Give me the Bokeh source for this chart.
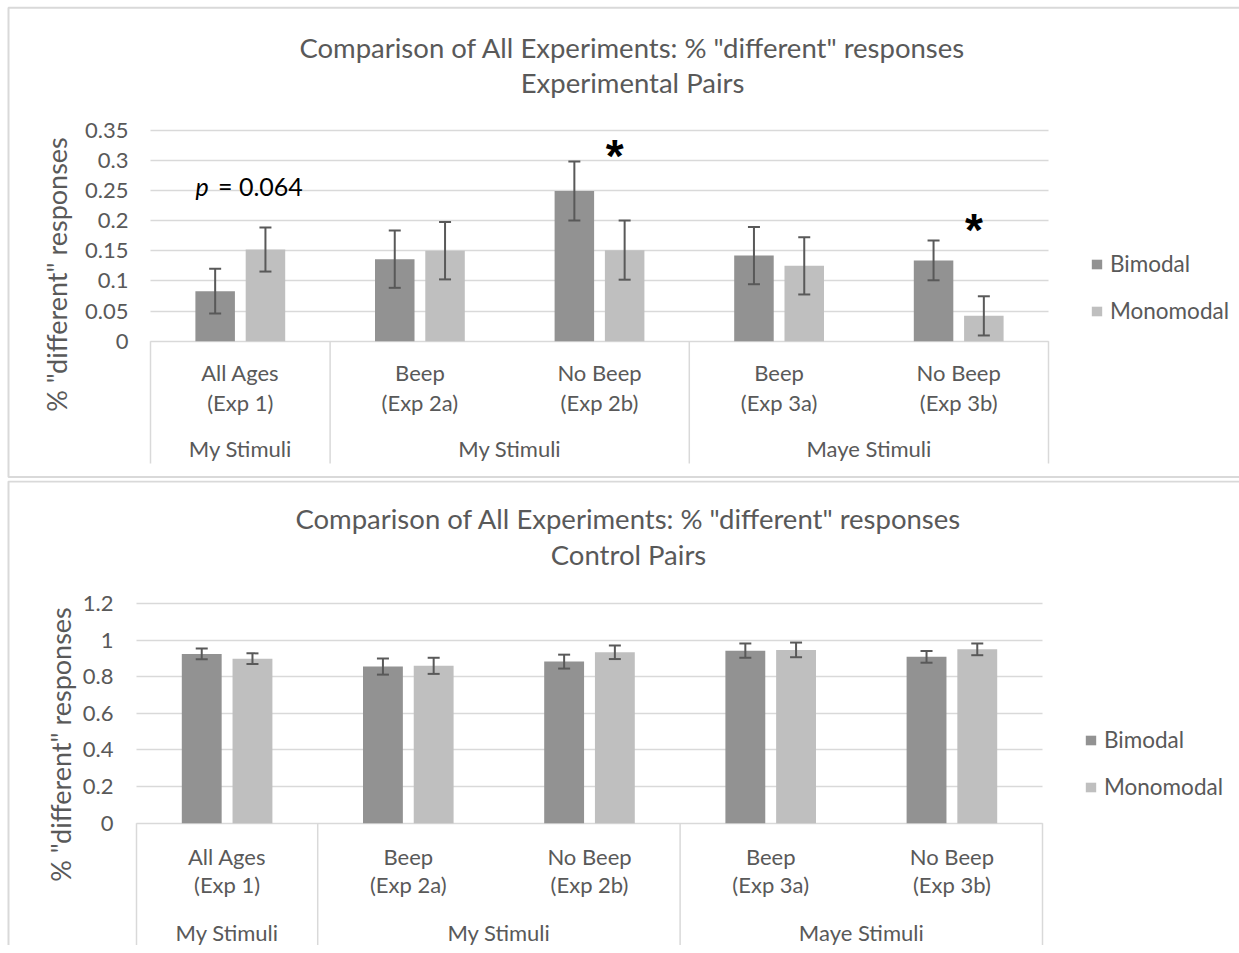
import numpy as np
from bokeh.plotting import figure
from bokeh.models import (ColumnDataSource, FixedTicker, CustomJSTickFormatter, Whisker,
                          Legend, LegendItem, TeeHead)
from bokeh.layouts import column
from bokeh.embed import file_html
from bokeh.resources import INLINE
from bokeh.core.properties import value

# ---------------- data ----------------
conditions = ["All Ages", "Beep", "No Beep", "Beep", "No Beep"]
experiments = ["(Exp 1)", "(Exp 2a)", "(Exp 2b)", "(Exp 3a)", "(Exp 3b)"]
stimulus_groups = ["My Stimuli", "My Stimuli", "Maye Stimuli"]
group_sizes = [1, 2, 2]
series_names = ["Bimodal", "Monomodal"]

exp_bimodal = [0.083, 0.136, 0.249, 0.142, 0.134]
exp_bimodal_err = [0.037, 0.0475, 0.049, 0.0475, 0.033]
exp_monomodal = [0.152, 0.150, 0.151, 0.125, 0.042]
exp_monomodal_err = [0.0365, 0.0475, 0.049, 0.0475, 0.0325]

ctl_bimodal = [0.924, 0.855, 0.882, 0.942, 0.908]
ctl_bimodal_err = [0.029, 0.044, 0.038, 0.039, 0.032]
ctl_monomodal = [0.898, 0.859, 0.933, 0.946, 0.949]
ctl_monomodal_err = [0.029, 0.044, 0.037, 0.040, 0.032]

exp_ticks = [0, 0.05, 0.1, 0.15, 0.2, 0.25, 0.3, 0.35]
ctl_ticks = [0, 0.2, 0.4, 0.6, 0.8, 1, 1.2]

main_title = 'Comparison of All Experiments: % "different" responses'
subtitles = ["Experimental Pairs", "Control Pairs"]
y_title = '% "different" responses'

# significance annotations (experimental pairs): category index, y position
sig_index = [2, 4]
sig_y = [0.307, 0.184]
p_note = "0.064"

# ---------------- style ----------------
FONT = "Lato"
TXT = "#595959"
DARK = "#929292"
LIGHT = "#bfbfbf"
GRID = "#d9d9d9"
FIG_W = 1239


def make_chart(subtitle, bi, bi_err, mono, mono_err, ticks, L):
    n = len(conditions)
    px0, sx, py0, sy, top, h = L["px0"], L["sx"], L["py0"], L["sy"], L["top"], L["h"]

    def dx(px):
        return (px - px0) / sx

    def dy(py):
        return (py0 - py) / sy

    p = figure(width=FIG_W, height=h, x_range=(dx(0), dx(FIG_W)), y_range=(dy(top + h), dy(top)),
               output_backend="svg", toolbar_location=None,
               min_border_left=0, min_border_right=0, min_border_top=0, min_border_bottom=0)
    p.outline_line_color = None
    p.background_fill_color = "white"
    p.border_fill_color = "white"
    p.xaxis.visible = False
    p.xgrid.visible = False
    p.yaxis.fixed_location = 0
    p.yaxis.ticker = FixedTicker(ticks=ticks)
    p.yaxis.formatter = CustomJSTickFormatter(code="return String(tick)")
    p.yaxis.axis_line_color = None
    p.yaxis.major_tick_line_color = None
    p.yaxis.minor_tick_line_color = None
    p.yaxis.major_tick_out = 0
    p.yaxis.major_tick_in = 0
    p.yaxis.major_label_standoff = L["standoff"]
    p.yaxis.major_label_text_font = FONT
    p.yaxis.major_label_text_font_size = "22px"
    p.yaxis.major_label_text_color = TXT
    p.ygrid.grid_line_color = GRID
    p.ygrid.grid_line_width = 1.5
    p.ygrid.cross_bounds = (0, n)

    # chart-area border (decoration)
    p.quad(left=[dx(L["box"][0])], right=[dx(L["box"][1])], top=[dy(L["box"][2])],
           bottom=[dy(L["box"][3])], fill_color=None, line_color=GRID, line_width=2)

    centers = np.arange(n) + 0.5
    bi = np.array(bi); mono = np.array(mono)
    bi_err = np.array(bi_err); mono_err = np.array(mono_err)
    src = ColumnDataSource(dict(
        xb=centers - 0.14, xm=centers + 0.14, bi=bi, mono=mono,
        bi_lo=bi - bi_err, bi_hi=bi + bi_err, mo_lo=mono - mono_err, mo_hi=mono + mono_err))

    rb = p.vbar(x="xb", top="bi", bottom=0, width=0.22, source=src, fill_color=DARK, line_color=None)
    rm = p.vbar(x="xm", top="mono", bottom=0, width=0.22, source=src, fill_color=LIGHT, line_color=None)

    for base, lo, hi in (("xb", "bi_lo", "bi_hi"), ("xm", "mo_lo", "mo_hi")):
        w = Whisker(base=base, lower=lo, upper=hi, source=src, line_color=TXT, line_width=2,
                    level="overlay",
                    upper_head=TeeHead(size=12, line_color=TXT, line_width=2),
                    lower_head=TeeHead(size=12, line_color=TXT, line_width=2))
        p.add_layout(w)

    # category separators
    bounds = np.concatenate([[0], np.cumsum(group_sizes)])
    p.segment(x0=bounds, y0=0, x1=bounds, y1=dy(L["sep"]), line_color=GRID, line_width=1.5)

    # category labels
    p.text(x=centers, y=[dy(L["c1"])] * n, text=conditions, text_align="center", text_baseline="middle",
           text_font=value(FONT), text_font_size="22px", text_color=TXT)
    p.text(x=centers, y=[dy(L["c2"])] * n, text=experiments, text_align="center", text_baseline="middle",
           text_font=value(FONT), text_font_size="22px", text_color=TXT)
    gcent = bounds[:-1] + np.array(group_sizes) / 2
    p.text(x=gcent, y=[dy(L["g"])] * len(gcent), text=stimulus_groups, text_align="center",
           text_baseline="middle", text_font=value(FONT), text_font_size="22px", text_color=TXT)

    # titles
    p.text(x=[dx(L["tx"])] * 2, y=[dy(L["t1"]), dy(L["t2"])], text=[main_title, subtitle],
           text_align="center", text_baseline="middle", text_font=value(FONT),
           text_font_size="27.5px", text_color=TXT)
    # y-axis title
    p.text(x=[dx(L["yx"])], y=[dy(L["yy"])], text=[y_title], angle=np.pi / 2, text_align="center",
           text_baseline="middle", text_font=value(FONT), text_font_size="27px", text_color=TXT)

    legend = Legend(items=[LegendItem(label=series_names[0], renderers=[rb]),
                           LegendItem(label=series_names[1], renderers=[rm])],
                    location=L["leg"], border_line_color=None, background_fill_alpha=0,
                    glyph_width=13, glyph_height=12, label_standoff=7, spacing=20, padding=0, margin=0,
                    label_text_font=FONT, label_text_font_size="22.5px", label_text_color=TXT)
    p.add_layout(legend)
    return p, dx, dy


# layout in page pixels (chart geometry)
L1 = dict(px0=150, sx=179.6, py0=340.7, sy=603, top=0, h=480, standoff=22,
          box=(8, 1270, 7.3, 476.5), sep=463, c1=372, c2=402, g=448,
          tx=632, t1=46.7, t2=81.7, yx=56, yy=274, leg=(1090, 156))
L2 = dict(px0=136, sx=181.2, py0=822.7, sy=183.2, top=480, h=465, standoff=23,
          box=(8, 1270, 481, 1000), sep=945, c1=855.7, c2=884, g=931.7,
          tx=628, t1=518, t2=554, yx=60, yy=744, leg=(1084, 145))

p1, dx1, dy1 = make_chart(subtitles[0], exp_bimodal, exp_bimodal_err, exp_monomodal, exp_monomodal_err,
                          exp_ticks, L1)
p2, _, _ = make_chart(subtitles[1], ctl_bimodal, ctl_bimodal_err, ctl_monomodal, ctl_monomodal_err,
                      ctl_ticks, L2)

# annotations on the experimental-pairs chart
p1.text(x=[i + 0.5 + 0.085 for i in sig_index], y=sig_y, text=["*"] * len(sig_index),
        text_align="center", text_baseline="alphabetic", text_font=value("Liberation Sans"),
        text_font_style="bold", text_font_size="46px", text_color="black")
p1.text(x=[dx1(195)], y=[dy1(185)], text=["p"], text_align="left", text_baseline="middle",
        text_font=value(FONT), text_font_style="italic", text_font_size="25px", text_color="black")
p1.text(x=[dx1(217.5)], y=[dy1(185)], text=["= " + p_note], text_align="left", text_baseline="middle",
        text_font=value(FONT), text_font_size="25px", text_color="black")

layout = column(p1, p2, spacing=0)
open("out.html", "w").write(file_html(layout, INLINE))
